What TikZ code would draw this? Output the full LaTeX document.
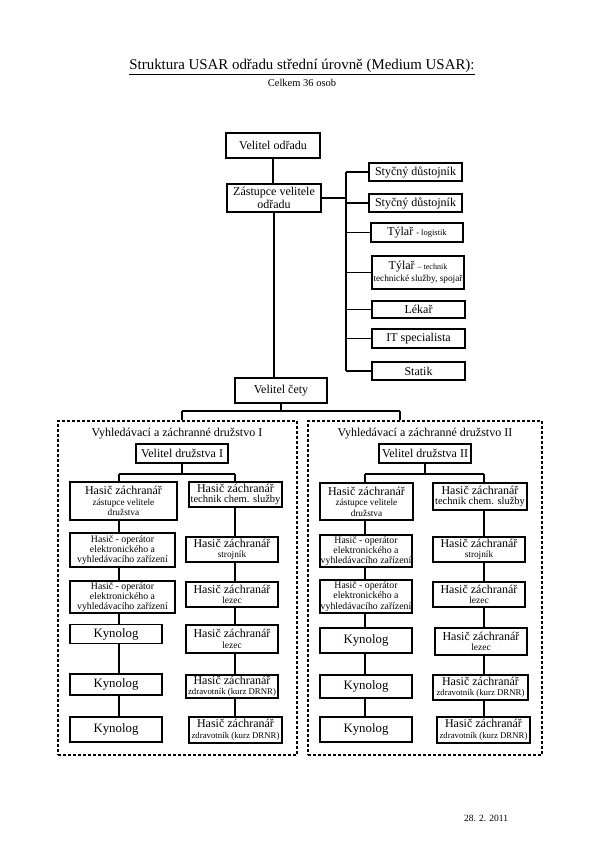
\documentclass[tikz,border=0pt]{standalone}
\usepackage{fontspec}
\setmainfont{Liberation Serif}
\newcommand\fsz[2]{{\fontsize{#1}{#1}\selectfont #2}}
\tikzset{
  box/.style={draw, line width=1.3pt, fill=white, inner sep=0.5pt, align=center, font=\fontsize{12}{12.5}\selectfont},
  hzbox/.style={box, font=\fontsize{12}{10.5}\selectfont},
  opbox/.style={box, font=\fontsize{9.8}{10.3}\selectfont},
  kybox/.style={box, font=\fontsize{12.8}{13}\selectfont},
  ln/.style={line width=1.3pt},
  grp/.style={draw, dashed, dash pattern=on 3pt off 2pt, line width=1.2pt},
  gtitle/.style={font=\fontsize{12}{13}\selectfont, inner sep=0pt}
}
\begin{document}
\begin{tikzpicture}[x=1pt,y=-1pt]
\useasboundingbox (0,0) rectangle (605,856);
% titles
\node (title) at (302,67) {\fontsize{14.9}{16}\selectfont\underline{Struktura USAR odřadu střední úrovně (Medium USAR):}};
\node (sub) at (302,83) {\fontsize{10.5}{12}\selectfont Celkem 36 osob};
\node (date) at (486,818) {\fontsize{9.5}{11}\selectfont 28. 2. 2011};

% top chain
\node[box, minimum width=94pt, minimum height=25pt] (vo) at (273,145.5) {Velitel odřadu};
\node[box, minimum width=94pt, minimum height=28pt] (vz) at (274,198) {Zástupce velitele\\odřadu};
\node[box, minimum width=92pt, minimum height=25pt] (vc) at (281,390.5) {Velitel čety};

% right column
\node[box, minimum width=93pt, minimum height=18pt] (s1) at (415.5,172) {Styčný důstojník};
\node[box, minimum width=93pt, minimum height=18pt] (s2) at (415.5,203) {Styčný důstojník};
\node[box, minimum width=92pt, minimum height=19pt] (t1) at (417,232.5) {Týlař \fsz{8.5}{- logistik}};
\node[box, minimum width=92pt, minimum height=33pt, font=\fontsize{12}{11.5}\selectfont] (t2) at (418,272.5) {Týlař \fsz{8}{-- technik}\\\fsz{9.3}{technické služby, spojař}};
\node[box, minimum width=93pt, minimum height=17pt] (lk) at (418.5,309.5) {Lékař};
\node[box, minimum width=93pt, minimum height=19pt] (it) at (418.5,338.5) {IT specialista};
\node[box, minimum width=93pt, minimum height=18pt] (st) at (418.5,371) {Statik};

\coordinate (spX) at (346,0);
\draw[ln] (vo.south) -- (vo.south |- vz.north);
\draw[ln] (vz.south) -- (vz.south |- vc.north);
\draw[ln] (vz.east) -- (vz.east -| spX);
\draw[ln] (s1.west -| spX) -- (st.west -| spX);
\foreach \r in {s1,s2,t1,t2,lk,it,st} { \draw[ln] (\r.west -| spX) -- (\r.west); }

% groups
\node[grp, minimum width=239pt, minimum height=334pt] (gL) at (177.5,588) {};
\node[grp, minimum width=234pt, minimum height=334pt] (gR) at (425,588) {};
\node[gtitle] (gLt) at (177,434) {Vyhledávací a záchranné družstvo I};
\node[gtitle] (gRt) at (425,434) {Vyhledávací a záchranné družstvo II};

\coordinate (busL) at (182,411);
\coordinate (busR) at (400,411);
\draw[ln] (vc.south) -- (vc.south |- busL);
\draw[ln] (busL) -- (busR);
\draw[ln] (busL) -- (busL |- gL.north);
\draw[ln] (busR) -- (busR |- gR.north);

\node[box, minimum width=92pt, minimum height=19pt] (vdI) at (182,453.5) {Velitel družstva I};
\node[box, minimum width=92pt, minimum height=19pt] (vdII) at (425,453.5) {Velitel družstva II};

% ---- left group
\node[hzbox, minimum width=107pt, minimum height=38pt] (aHz) at (123.5,501) {Hasič záchranář\\\fsz{9.3}{zástupce velitele}\\\fsz{9.3}{družstva}};
\node[opbox, minimum width=105pt, minimum height=34pt] (aOp1) at (122.5,550) {Hasič - operátor\\elektronického a\\vyhledávacího zařízení};
\node[opbox, minimum width=105pt, minimum height=32pt] (aOp2) at (122.5,597) {Hasič - operátor\\elektronického a\\vyhledávacího zařízení};
\node[kybox, minimum width=92pt, minimum height=19pt] (aKy1) at (116,634) {Kynolog};
\node[kybox, minimum width=92pt, minimum height=21pt] (aKy2) at (116,684.5) {Kynolog};
\node[kybox, minimum width=92pt, minimum height=25pt] (aKy3) at (116,729.5) {Kynolog};

\node[hzbox, minimum width=93pt, minimum height=25pt] (aTc) at (235.5,494.5) {Hasič záchranář\\\fsz{10.5}{technik chem. služby}};
\node[hzbox, minimum width=92pt, minimum height=25pt] (aSj) at (232,549.5) {Hasič záchranář\\\fsz{9.3}{strojník}};
\node[hzbox, minimum width=92pt, minimum height=25pt] (aLz1) at (232,594.5) {Hasič záchranář\\\fsz{9.5}{lezec}};
\node[hzbox, minimum width=92pt, minimum height=28pt] (aLz2) at (232,639) {Hasič záchranář\\\fsz{9.5}{lezec}};
\node[hzbox, minimum width=92pt, minimum height=23pt] (aZd1) at (232,686.5) {Hasič záchranář\\\fsz{8.8}{zdravotník (kurz DRNR)}};
\node[hzbox, minimum width=93pt, minimum height=26pt] (aZd2) at (235.5,730) {Hasič záchranář\\\fsz{8.8}{zdravotník (kurz DRNR)}};

\coordinate (aBusL) at (119,474);
\coordinate (aBusR) at (235,474);
\draw[ln] (vdI.south) -- (vdI.south |- aBusL);
\draw[ln] (aBusL) -- (aBusR);
\draw[ln] (aBusL) -- (aBusL |- aHz.north);
\draw[ln] (aBusR) -- (aBusR |- aTc.north);
\draw[ln] (aHz.south -| aBusL) -- (aOp1.north -| aBusL);
\draw[ln] (aOp1.south -| aBusL) -- (aOp2.north -| aBusL);
\draw[ln] (aOp2.south -| aBusL) -- (aKy1.north -| aBusL);
\draw[ln] (aKy1.south -| aBusL) -- (aKy2.north -| aBusL);
\draw[ln] (aKy2.south -| aBusL) -- (aKy3.north -| aBusL);
\draw[ln] (aTc.south -| aBusR) -- (aSj.north -| aBusR);
\draw[ln] (aSj.south -| aBusR) -- (aLz1.north -| aBusR);
\draw[ln] (aLz1.south -| aBusR) -- (aLz2.north -| aBusR);
\draw[ln] (aLz2.south -| aBusR) -- (aZd1.north -| aBusR);
\draw[ln] (aZd1.south -| aBusR) -- (aZd2.north -| aBusR);

% ---- right group
\node[hzbox, minimum width=93pt, minimum height=37pt] (bHz) at (366.5,501.5) {Hasič záchranář\\\fsz{9.3}{zástupce velitele}\\\fsz{9.3}{družstva}};
\node[opbox, minimum width=92pt, minimum height=32pt] (bOp1) at (366,551) {Hasič - operátor\\elektronického a\\vyhledávacího zařízení};
\node[opbox, minimum width=92pt, minimum height=33pt] (bOp2) at (366,596.5) {Hasič - operátor\\elektronického a\\vyhledávacího zařízení};
\node[kybox, minimum width=92pt, minimum height=25pt] (bKy1) at (366,640.5) {Kynolog};
\node[kybox, minimum width=92pt, minimum height=23pt] (bKy2) at (366,686.5) {Kynolog};
\node[kybox, minimum width=92pt, minimum height=25pt] (bKy3) at (366,729.5) {Kynolog};

\node[hzbox, minimum width=94pt, minimum height=27pt] (bTc) at (480,496.5) {Hasič záchranář\\\fsz{10.5}{technik chem. služby}};
\node[hzbox, minimum width=92pt, minimum height=25pt] (bSj) at (479,549.5) {Hasič záchranář\\\fsz{9.3}{strojník}};
\node[hzbox, minimum width=92pt, minimum height=25pt] (bLz1) at (479,594.5) {Hasič záchranář\\\fsz{9.5}{lezec}};
\node[hzbox, minimum width=92pt, minimum height=27pt] (bLz2) at (481,641.5) {Hasič záchranář\\\fsz{9.5}{lezec}};
\node[hzbox, minimum width=95pt, minimum height=25pt] (bZd1) at (480.5,687.5) {Hasič záchranář\\\fsz{8.8}{zdravotník (kurz DRNR)}};
\node[hzbox, minimum width=93pt, minimum height=26pt] (bZd2) at (483.5,730) {Hasič záchranář\\\fsz{8.8}{zdravotník (kurz DRNR)}};

\coordinate (bBusL) at (365,474);
\coordinate (bBusR) at (484,474);
\draw[ln] (vdII.south) -- (vdII.south |- bBusL);
\draw[ln] (bBusL) -- (bBusR);
\draw[ln] (bBusL) -- (bBusL |- bHz.north);
\draw[ln] (bBusR) -- (bBusR |- bTc.north);
\draw[ln] (bHz.south -| bBusL) -- (bOp1.north -| bBusL);
\draw[ln] (bOp1.south -| bBusL) -- (bOp2.north -| bBusL);
\draw[ln] (bOp2.south -| bBusL) -- (bKy1.north -| bBusL);
\draw[ln] (bKy1.south -| bBusL) -- (bKy2.north -| bBusL);
\draw[ln] (bKy2.south -| bBusL) -- (bKy3.north -| bBusL);
\draw[ln] (bTc.south -| bBusR) -- (bSj.north -| bBusR);
\draw[ln] (bSj.south -| bBusR) -- (bLz1.north -| bBusR);
\draw[ln] (bLz1.south -| bBusR) -- (bLz2.north -| bBusR);
\draw[ln] (bLz2.south -| bBusR) -- (bZd1.north -| bBusR);
\draw[ln] (bZd1.south -| bBusR) -- (bZd2.north -| bBusR);
\end{tikzpicture}
\end{document}
